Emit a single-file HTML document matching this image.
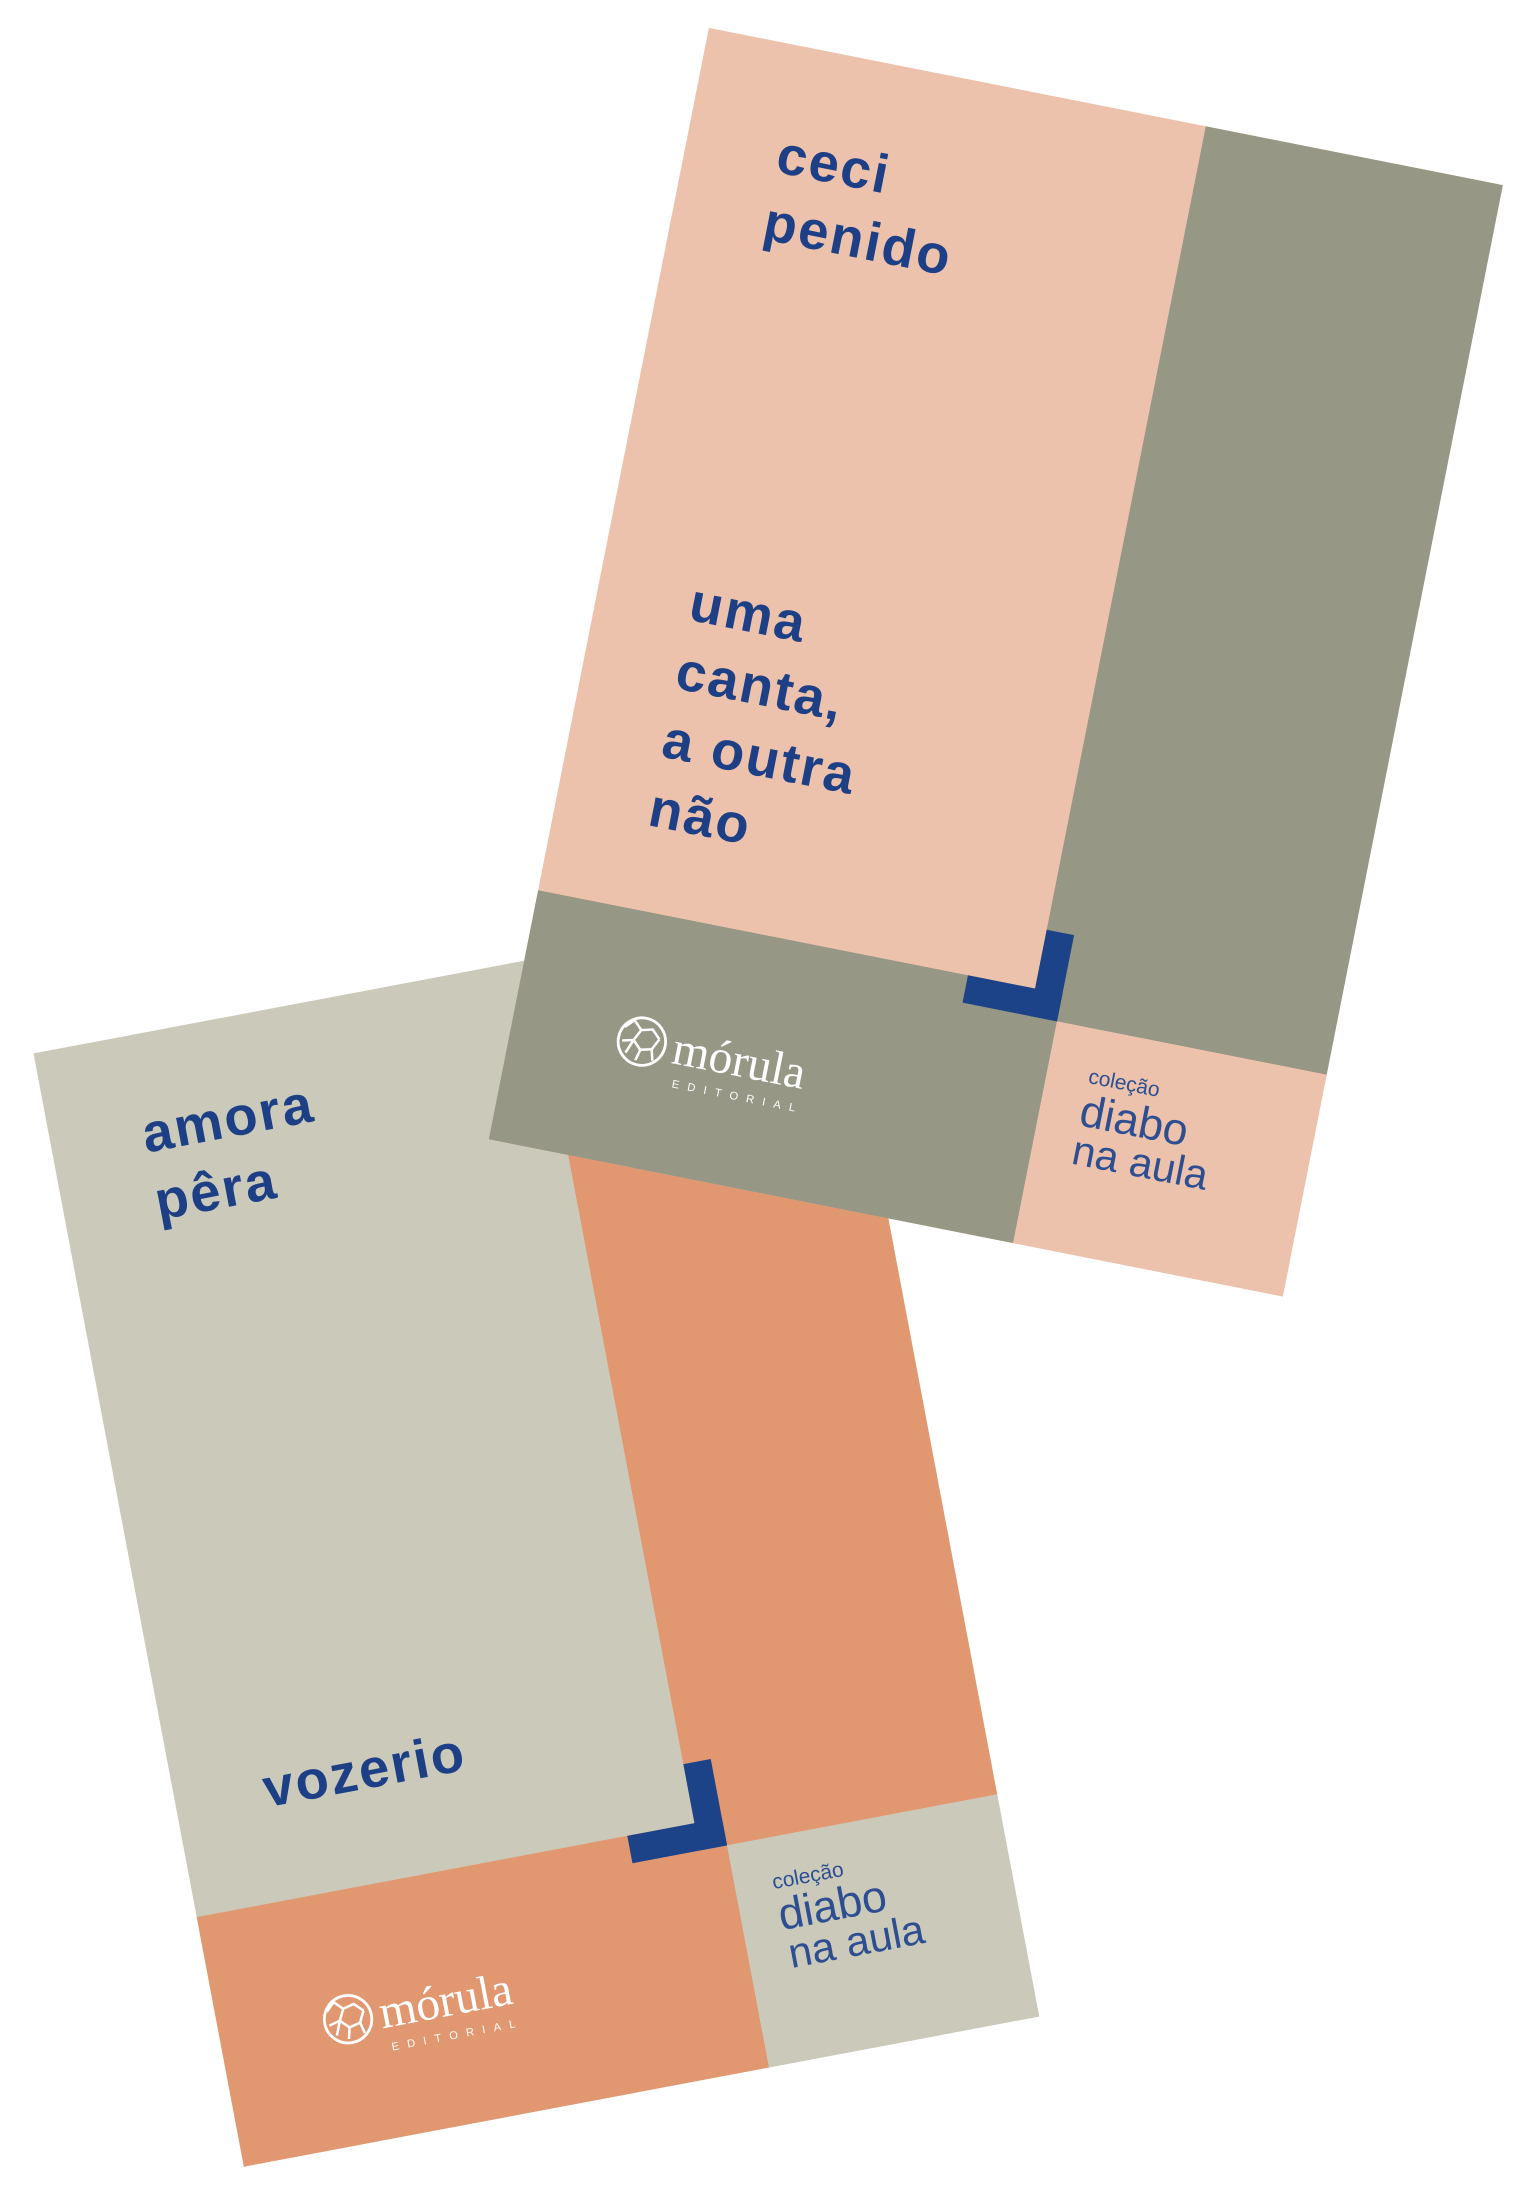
<!DOCTYPE html>
<html><head><meta charset="utf-8"><style>
html,body{margin:0;padding:0;background:#fff;width:1535px;height:2185px;overflow:hidden}
svg{display:block}
.t{font-family:"Liberation Sans",sans-serif;font-weight:bold;fill:#1D3F86;letter-spacing:1.5px}
.c{font-family:"Liberation Sans",sans-serif;fill:#2E4E92}
.m{font-family:"Liberation Serif",serif;fill:#fff}
.e{font-family:"Liberation Sans",sans-serif;fill:#fff;letter-spacing:6px}
</style></head><body>
<svg width="1535" height="2185" viewBox="0 0 1100 1566" preserveAspectRatio="none" xmlns="http://www.w3.org/2000/svg">
<defs>
<g id="logo">
<circle cx="0" cy="0" r="17" fill="none" stroke="#fff" stroke-width="2"/>
<path d="M-8,-14 L-2,-8 L6,-10 L12,-4 M-2,-8 L-6,0 L-14,2 M-6,0 L0,6 L8,4 L12,-4 M0,6 L-2,14 M8,4 L10,12 M-14,-8 L-8,-14 M-6,0 L-10,10" fill="none" stroke="#fff" stroke-width="1.8"/>
</g>
</defs>
<!-- bottom book -->
<g transform="translate(24,755) rotate(-10.7)">
<rect x="0" y="0" width="580" height="812" fill="#CBCABA"/>
<rect x="363" y="0" width="217" height="650" fill="#E19870"/>
<rect x="0" y="630" width="383" height="182" fill="#E19870"/>
<rect x="383" y="650" width="197" height="162" fill="#CBCABA"/>
<rect x="363" y="587" width="20" height="63" fill="#1C4287"/>
<rect x="314" y="630" width="69" height="20" fill="#1C4287"/>
<text class="t" x="66" y="85" font-size="39">amora</text>
<text class="t" x="66" y="134" font-size="39">pêra</text>
<text class="t" x="64" y="562" font-size="39">vozerio</text>
<text class="c" x="410" y="687" font-size="15">coleção</text>
<text class="c" x="410" y="717" font-size="32">diabo</text>
<text class="c" x="412" y="745" font-size="30">na aula</text>
<use href="#logo" x="93" y="722"/>
<text class="m" x="116" y="733" font-size="34">mórula</text>
<text class="e" x="120" y="750" font-size="8">EDITORIAL</text>
</g>
<!-- top book -->
<g transform="translate(508,20) rotate(11.2)">
<rect x="0" y="0" width="580" height="812" fill="#EDC2AC"/>
<rect x="363" y="0" width="217" height="650" fill="#969784"/>
<rect x="0" y="630" width="383" height="182" fill="#969784"/>
<rect x="383" y="650" width="197" height="162" fill="#EDC2AC"/>
<rect x="363" y="587" width="20" height="63" fill="#1C4287"/>
<rect x="314" y="630" width="69" height="20" fill="#1C4287"/>
<text class="t" x="66" y="92" font-size="39">ceci</text>
<text class="t" x="66" y="141" font-size="39">penido</text>
<text class="t" x="67" y="419" font-size="39">uma</text>
<text class="t" x="67" y="469" font-size="39">canta,</text>
<text class="t" x="67" y="519" font-size="39">a outra</text>
<text class="t" x="67" y="569" font-size="39">não</text>
<text class="c" x="413" y="689" font-size="15">coleção</text>
<text class="c" x="412" y="720" font-size="32">diabo</text>
<text class="c" x="412" y="748" font-size="30">na aula</text>
<use href="#logo" x="94" y="722"/>
<text class="m" x="117" y="733" font-size="34">mórula</text>
<text class="e" x="121" y="750" font-size="8">EDITORIAL</text>
</g>
</svg>
</body></html>
